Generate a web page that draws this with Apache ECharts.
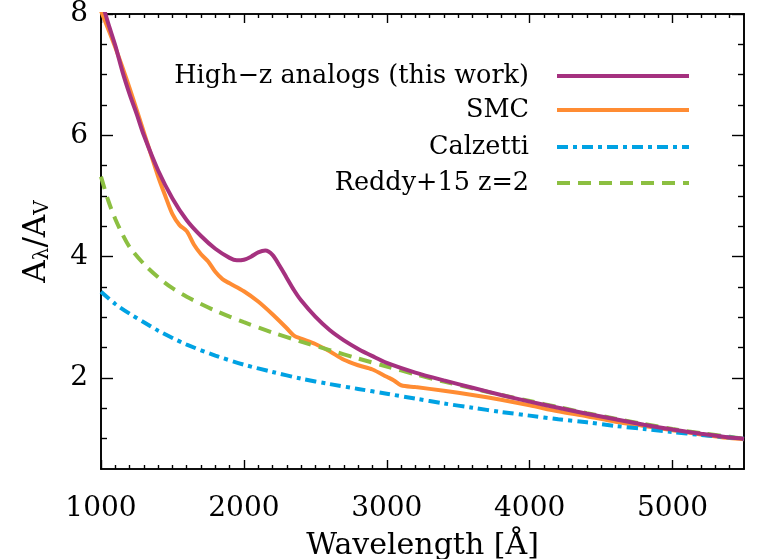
<!DOCTYPE html>
<html>
<head>
<meta charset="utf-8">
<script src="https://cdn.jsdelivr.net/npm/echarts@6/dist/echarts.min.js"></script>
<style>
html,body{margin:0;padding:0;background:#fff;}
#chart{width:783px;height:559px;}
</style>
</head>
<body>
<div id="chart"></div>
<script>
// ---- data ----
const seriesNames = ['High\u2212z analogs (this work)', 'SMC', 'Calzetti', 'Reddy+15 z=2'];

const highzWave = [1000,1050,1100,1150,1200,1250,1300,1400,1500,1600,1700,1800,1900,1950,2000,2050,2100,2150,2200,2250,2300,2350,2400,2500,2600,2700,2800,2900,3000,3200,3400,3600,3800,4000,4200,4400,4600,4800,5000,5200,5400,5500];
const highzA    = [8.25,7.85,7.48,7.05,6.68,6.35,6.00,5.42,4.96,4.60,4.34,4.13,3.98,3.94,3.95,4.00,4.07,4.10,4.03,3.85,3.65,3.45,3.28,3.01,2.79,2.62,2.48,2.36,2.25,2.09,1.96,1.84,1.72,1.61,1.51,1.41,1.32,1.23,1.15,1.08,1.02,1.00];

const smcWave = [1000,1100,1200,1300,1400,1450,1500,1550,1600,1650,1700,1750,1800,1850,1900,2000,2100,2200,2300,2350,2400,2500,2600,2700,2800,2900,3000,3050,3100,3200,3400,3600,3800,4000,4200,4400,4600,4800,5000,5200,5400,5500];
const smcA    = [8.05,7.45,6.78,6.05,5.32,5.00,4.70,4.52,4.42,4.20,4.04,3.92,3.75,3.63,3.56,3.43,3.26,3.05,2.82,2.70,2.65,2.56,2.44,2.30,2.21,2.14,2.02,1.96,1.88,1.85,1.79,1.72,1.64,1.55,1.45,1.37,1.28,1.21,1.14,1.07,1.01,0.99];

const calzWave = [1000,1100,1200,1300,1400,1500,1600,1800,2000,2200,2400,2600,2800,3000,3200,3400,3600,3800,4000,4200,4400,4600,4800,5000,5200,5400,5500];
const calzA    = [3.42,3.22,3.06,2.92,2.78,2.66,2.55,2.37,2.22,2.10,1.99,1.90,1.82,1.74,1.66,1.58,1.51,1.44,1.38,1.32,1.27,1.21,1.16,1.11,1.06,1.02,1.00];

const reddyWave = [1000,1050,1100,1150,1200,1300,1400,1500,1600,1700,1800,1900,2000,2200,2400,2600,2800,3000,3200,3400,3600,3800,4000,4200,4400,4600,4800,5000,5200,5400,5500];
const reddyA    = [5.32,4.93,4.62,4.37,4.16,3.88,3.66,3.48,3.34,3.22,3.11,3.01,2.92,2.75,2.60,2.46,2.32,2.19,2.06,1.94,1.83,1.72,1.62,1.52,1.42,1.33,1.24,1.16,1.09,1.03,1.00];

// axis ticks
const xMajorTicks = [1000,2000,3000,4000,5000];
const xMinorTicks = [];
for (let v = 1100; v < 5500; v += 100) if (v % 1000 !== 0) xMinorTicks.push(v);
const yMajorTicks = [2,4,6,8];
const yMinorTicks = [1,1.5,2.5,3,3.5,4.5,5,5.5,6.5,7,7.5];

const colors = {
  highz: '#a5317f',
  smc: '#ff8c33',
  calz: '#00a2e3',
  reddy: '#8cbf41'
};

function pairs(xs, ys){ return xs.map((x,i)=>[x, ys[i]]); }

const FONT = 'DejaVu Serif';
const X_MIN = 1000, X_MAX = 5500, Y_MIN = 0.5, Y_MAX = 8;

function xAxisDef(pos, custom, len, showLabel, showName){
  return {
    type:'value', position: pos, min:X_MIN, max:X_MAX,
    axisLine:{show:true, onZero:false, lineStyle:{color:'#000', width:1.6}},
    splitLine:{show:false},
    axisTick:{show:true, inside:true, length:len, customValues:custom, lineStyle:{color:'#000', width:1.4}},
    axisLabel:{show:showLabel, customValues:custom, color:'#000', fontFamily:FONT, fontSize:28, margin:26,
      formatter:(v)=>String(v)},
    name: showName ? 'Wavelength [\u00c5]' : '',
    nameLocation:'middle', nameGap:62,
    nameTextStyle:{color:'#000', fontFamily:FONT, fontSize:30}
  };
}
function yAxisDef(pos, custom, len, showLabel, showName){
  return {
    type:'value', position: pos, min:Y_MIN, max:Y_MAX,
    axisLine:{show:true, onZero:false, lineStyle:{color:'#000', width:1.6}},
    splitLine:{show:false},
    axisTick:{show:true, inside:true, length:len, customValues:custom, lineStyle:{color:'#000', width:1.4}},
    axisLabel:{show:showLabel, customValues:custom, color:'#000', fontFamily:FONT, fontSize:28, margin:13,
      formatter:(v)=>String(v)},
    name: showName ? '{a|A}{s|\u03bb}{a|/A}{s|V}' : '',
    nameLocation:'middle', nameGap:48, nameRotate:90,
    nameTextStyle:{color:'#000', fontFamily:FONT, fontSize:31,
      rich:{a:{fontFamily:FONT, fontSize:31, color:'#000'}, s:{fontFamily:FONT, fontSize:20, color:'#000', verticalAlign:'bottom', padding:[12,0,0,0]}}}
  };
}

const legendTops = [58, 92, 129, 165];
const legendNames = seriesNames;

const chart = echarts.init(document.getElementById('chart'), null, {renderer:'canvas'});
chart.setOption({
  animation:false,
  backgroundColor:'#fff',
  grid:{left:101, right:39, top:14, bottom:90, containLabel:false, outerBoundsMode:'none'},
  xAxis:[
    xAxisDef('bottom', xMajorTicks, 9, true, true),
    xAxisDef('bottom', xMinorTicks, 4, false, false),
    xAxisDef('top', xMajorTicks, 9, false, false),
    xAxisDef('top', xMinorTicks, 4, false, false)
  ],
  yAxis:[
    yAxisDef('left', yMajorTicks, 12, true, true),
    yAxisDef('left', yMinorTicks, 6, false, false),
    yAxisDef('right', yMajorTicks, 12, false, false),
    yAxisDef('right', yMinorTicks, 6, false, false)
  ],
  legend: legendNames.map((n,i)=>({
    data:[n], right:87, top:legendTops[i], orient:'horizontal', align:'right',
    itemWidth:132, itemHeight:14, selectedMode:false,
    itemStyle:{opacity:0},
    lineStyle:{width:4},
    textStyle:{color:'#000', fontFamily:FONT, fontSize:25.5, padding:[0,23,0,0]}
  })),
  series:[
    {name:seriesNames[1], type:'line', data:pairs(smcWave, smcA), symbol:'none', smooth:0.3,
      lineStyle:{color:colors.smc, width:4}, itemStyle:{color:colors.smc}},
    {name:seriesNames[3], type:'line', data:pairs(reddyWave, reddyA), symbol:'none', smooth:0.3,
      lineStyle:{color:colors.reddy, width:4, type:[13,8]}, itemStyle:{color:colors.reddy}},
    {name:seriesNames[2], type:'line', data:pairs(calzWave, calzA), symbol:'none', smooth:0.3,
      lineStyle:{color:colors.calz, width:4, type:[11,5,4,5]}, itemStyle:{color:colors.calz}},
    {name:seriesNames[0], type:'line', data:pairs(highzWave, highzA), symbol:'none', smooth:0.3,
      lineStyle:{color:colors.highz, width:4}, itemStyle:{color:colors.highz}}
  ]
});
</script>
</body>
</html>
